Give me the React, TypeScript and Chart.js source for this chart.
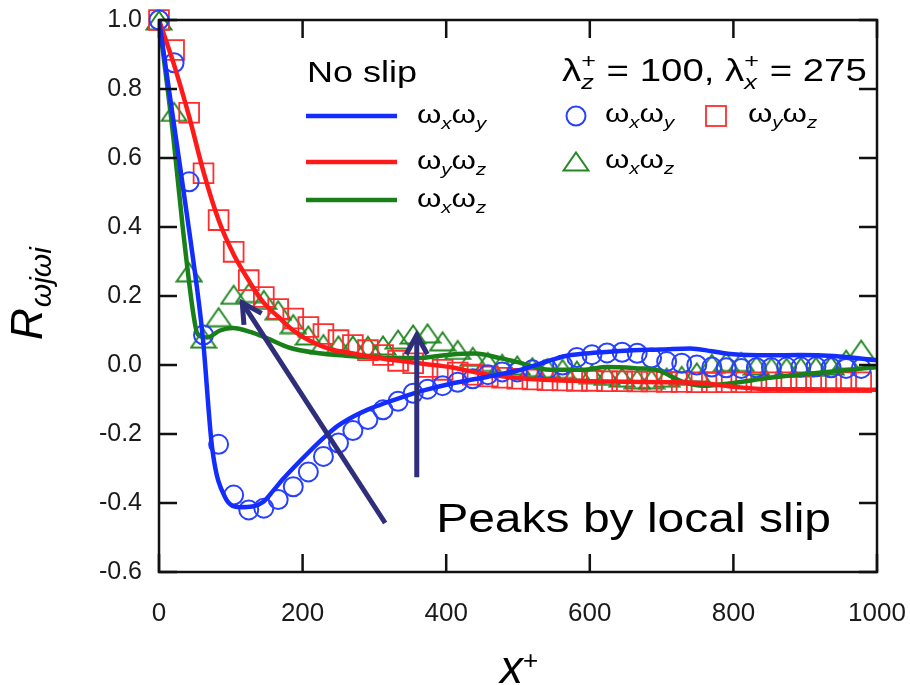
import React, { useEffect, useRef } from 'react';
import { Chart, registerables } from 'chart.js';

Chart.register(...registerables);

// ---------- data ----------
const markerX = [0, 21, 42, 62, 83, 104, 125, 146, 166, 187, 208, 229, 250, 270, 291, 312, 333, 354, 374, 395, 416, 437, 458, 478, 499, 520, 541, 562, 582, 603, 624, 645, 666, 686, 707, 728, 749, 770, 790, 811, 832, 853, 874, 894, 915, 936, 957, 978];

// slip case (markers)
const slipXY = [1.0, 0.876, 0.531, 0.087, -0.23, -0.377, -0.42, -0.415, -0.39, -0.353, -0.31, -0.265, -0.226, -0.19, -0.158, -0.13, -0.105, -0.082, -0.07, -0.06, -0.05, -0.04, -0.028, -0.02, -0.02, -0.014, -0.012, 0.0, 0.022, 0.03, 0.035, 0.037, 0.034, 0.02, 0.01, 0.005, 0.0, -0.006, -0.008, -0.01, -0.008, -0.008, -0.006, -0.006, -0.005, -0.008, -0.01, -0.01];
const slipYZ = [1.0, 0.913, 0.731, 0.556, 0.42, 0.328, 0.246, 0.197, 0.162, 0.135, 0.11, 0.09, 0.072, 0.058, 0.043, 0.029, 0.012, 0.005, -0.006, -0.014, -0.022, -0.028, -0.033, -0.037, -0.04, -0.042, -0.044, -0.045, -0.046, -0.046, -0.047, -0.047, -0.048, -0.048, -0.049, -0.049, -0.05, -0.05, -0.05, -0.05, -0.05, -0.05, -0.05, -0.05, -0.05, -0.05, -0.05, -0.05];
const slipXZ = [1.0, 0.735, 0.27, 0.078, 0.14, 0.205, 0.21, 0.19, 0.16, 0.12, 0.087, 0.062, 0.058, 0.058, 0.057, 0.058, 0.075, 0.09, 0.093, 0.07, 0.045, 0.025, 0.01, 0.005, 0.0, -0.005, -0.008, -0.01, -0.015, -0.025, -0.03, -0.035, -0.04, -0.04, -0.035, -0.03, -0.02, 0.005, 0.01, 0.01, 0.0, -0.005, -0.006, -0.005, -0.004, 0.0, 0.017, 0.046];

// no-slip case (lines)
const noSlipXYx = [0, 22, 44, 61, 74, 92, 113, 130, 145, 160, 173, 190, 210, 230, 248, 270, 290, 315, 336, 370, 405, 450, 500, 540, 568, 610, 660, 700, 740, 770, 800, 850, 893, 940, 1000];
const noSlipXYy = [1.0, 0.68, 0.36, 0.08, -0.24, -0.383, -0.412, -0.41, -0.397, -0.362, -0.33, -0.292, -0.25, -0.21, -0.178, -0.15, -0.13, -0.11, -0.095, -0.073, -0.055, -0.037, -0.016, 0.01, 0.027, 0.036, 0.043, 0.045, 0.048, 0.04, 0.031, 0.028, 0.029, 0.026, 0.014];
const noSlipYZx = [0, 21, 42, 62, 83, 104, 125, 146, 166, 187, 210, 240, 266, 300, 336, 370, 405, 450, 500, 535, 600, 700, 753, 800, 847, 900, 1000];
const noSlipYZy = [1.0, 0.87, 0.72, 0.56, 0.42, 0.32, 0.245, 0.18, 0.14, 0.1, 0.07, 0.045, 0.035, 0.022, 0.012, 0.003, -0.006, -0.025, -0.038, -0.043, -0.047, -0.05, -0.052, -0.063, -0.07, -0.07, -0.072];
const noSlipXZx = [0, 20, 33, 47, 53, 60, 67, 85, 103, 127, 150, 182, 220, 260, 290, 330, 359, 405, 440, 475, 498, 545, 590, 624, 670, 693, 730, 758, 800, 847, 916, 986, 1000];
const noSlipXZy = [1.0, 0.66, 0.4, 0.16, 0.093, 0.082, 0.08, 0.1, 0.107, 0.096, 0.078, 0.05, 0.035, 0.027, 0.023, 0.02, 0.02, 0.03, 0.033, 0.02, 0.009, -0.014, -0.014, -0.006, -0.01, -0.014, -0.049, -0.06, -0.052, -0.038, -0.023, -0.009, -0.006];

// ticks
const xTicks = [0, 200, 400, 600, 800, 1000];
const xTickLabels = ['0', '200', '400', '600', '800', '1000'];
const yTicks = [-0.6, -0.4, -0.2, 0.0, 0.2, 0.4, 0.6, 0.8, 1.0];
const yTickLabels = ['-0.6', '-0.4', '-0.2', '0.0', '0.2', '0.4', '0.6', '0.8', '1.0'];

// annotation texts
const noSlipTitle = 'No slip';
const annotationText = 'Peaks by local slip';

// ---------- styles ----------
const FONT = "'Liberation Sans', Arial, sans-serif";
const BLUE_LINE = 'rgb(20,45,255)';
const RED_LINE = 'rgb(255,25,25)';
const GREEN_LINE = 'rgb(25,128,25)';
const BLUE_MK = 'rgb(40,65,255)';
const RED_MK = 'rgb(255,45,45)';
const GREEN_MK = 'rgb(35,135,35)';
const ARROW = 'rgb(46,46,122)';
const SX = 1.2; // horizontal text stretch of the original figure

function makeTriangle(color: string): HTMLCanvasElement {
  const w = 28, h = 22;
  const c = document.createElement('canvas');
  c.width = w; c.height = h;
  const g = c.getContext('2d')!;
  g.strokeStyle = color;
  g.lineWidth = 2;
  g.beginPath();
  g.moveTo(w / 2, 2.5);
  g.lineTo(w - 1.5, h - 1.5);
  g.lineTo(1.5, h - 1.5);
  g.closePath();
  g.stroke();
  return c;
}

type Seg = { t: string; size: number; italic?: boolean; dy?: number; stack?: boolean };

function drawRich(ctx: CanvasRenderingContext2D, segs: Seg[], x: number, y: number, sx: number) {
  ctx.save();
  ctx.translate(x, y);
  ctx.scale(sx, 1);
  ctx.textAlign = 'left';
  ctx.textBaseline = 'alphabetic';
  let cx = 0;
  let lastW = 0;
  for (const s of segs) {
    ctx.font = `${s.italic ? 'italic ' : ''}${s.size}px ${FONT}`;
    const w = ctx.measureText(s.t).width;
    if (s.stack) {
      const start = cx - lastW;
      ctx.fillText(s.t, start, s.dy || 0);
      cx = start + Math.max(w, lastW);
      lastW = 0;
    } else {
      ctx.fillText(s.t, cx, s.dy || 0);
      cx += w;
      lastW = w;
    }
  }
  ctx.restore();
}

function omegaPair(a: string, b: string): Seg[] {
  return [
    { t: 'ω', size: 26 },
    { t: a, size: 17, italic: true, dy: 6 },
    { t: 'ω', size: 26 },
    { t: b, size: 17, italic: true, dy: 6 },
  ];
}

function arrow(ctx: CanvasRenderingContext2D, x0: number, y0: number, x1: number, y1: number) {
  const ang = Math.atan2(y1 - y0, x1 - x0);
  const hl = 22, ha = 0.5;
  ctx.save();
  ctx.strokeStyle = ARROW;
  ctx.lineWidth = 5;
  ctx.lineCap = 'butt';
  ctx.lineJoin = 'miter';
  ctx.beginPath();
  ctx.moveTo(x0, y0);
  ctx.lineTo(x1, y1);
  ctx.stroke();
  ctx.beginPath();
  ctx.moveTo(x1 - hl * Math.cos(ang - ha), y1 - hl * Math.sin(ang - ha));
  ctx.lineTo(x1, y1);
  ctx.lineTo(x1 - hl * Math.cos(ang + ha), y1 - hl * Math.sin(ang + ha));
  ctx.stroke();
  ctx.restore();
}

export default function App() {
  const ref = useRef<HTMLCanvasElement | null>(null);

  useEffect(() => {
    if (!ref.current) return;
    const tri = makeTriangle(GREEN_MK);

    const decor = {
      id: 'decor',
      afterDatasetsDraw(chart: any) {
        const ctx: CanvasRenderingContext2D = chart.ctx;
        const { left, right, top, bottom } = chart.chartArea;
        const xs = chart.scales.x;
        const ys = chart.scales.y;

        // frame + inward ticks
        ctx.save();
        ctx.strokeStyle = '#111';
        ctx.lineWidth = 2.5;
        ctx.strokeRect(left, top, right - left, bottom - top);
        const TL = 18;
        ctx.beginPath();
        for (const v of xTicks) {
          const px = xs.getPixelForValue(v);
          ctx.moveTo(px, bottom); ctx.lineTo(px, bottom - TL);
          ctx.moveTo(px, top); ctx.lineTo(px, top + TL);
        }
        for (const v of yTicks) {
          const py = ys.getPixelForValue(v);
          ctx.moveTo(left, py); ctx.lineTo(left + TL, py);
          ctx.moveTo(right, py); ctx.lineTo(right - TL, py);
        }
        ctx.stroke();
        ctx.restore();

        // axis titles
        ctx.save();
        ctx.fillStyle = '#000';
        ctx.translate(42, 340);
        ctx.rotate(-Math.PI / 2);
        ctx.textBaseline = 'alphabetic';
        ctx.font = `italic 44px ${FONT}`;
        ctx.fillText('R', 0, 0);
        const rw = ctx.measureText('R').width;
        ctx.font = `italic 30px ${FONT}`;
        ctx.fillText('ωjωi', rw + 1, 9);
        ctx.restore();

        ctx.save();
        ctx.fillStyle = '#000';
        drawRich(ctx, [
          { t: 'x', size: 46, italic: true },
          { t: '+', size: 26, dy: -14 },
        ], 500, 683, 1);
        ctx.restore();

        // "No slip" legend
        ctx.save();
        ctx.fillStyle = '#000';
        drawRich(ctx, [{ t: noSlipTitle, size: 30 }], 307, 82, SX);
        const lines: [string, number, string, string][] = [
          [BLUE_LINE, 116, 'x', 'y'],
          [RED_LINE, 162, 'y', 'z'],
          [GREEN_LINE, 200, 'x', 'z'],
        ];
        for (const [col, y, a, b] of lines) {
          ctx.strokeStyle = col;
          ctx.lineWidth = 4.5;
          ctx.beginPath();
          ctx.moveTo(306, y);
          ctx.lineTo(397, y);
          ctx.stroke();
          drawRich(ctx, omegaPair(a, b), 417, y + 7, SX);
        }
        ctx.restore();

        // slip legend
        ctx.save();
        ctx.fillStyle = '#000';
        drawRich(ctx, [
          { t: 'λ', size: 32 },
          { t: 'z', size: 21, italic: true, dy: 8 },
          { t: '+', size: 21, dy: -13, stack: true },
          { t: ' = 100, ', size: 32 },
          { t: 'λ', size: 32 },
          { t: 'x', size: 21, italic: true, dy: 8 },
          { t: '+', size: 21, dy: -13, stack: true },
          { t: ' = 275', size: 32 },
        ], 562, 81, SX);
        ctx.strokeStyle = BLUE_MK;
        ctx.lineWidth = 2;
        ctx.beginPath();
        ctx.arc(576, 116, 9.5, 0, Math.PI * 2);
        ctx.stroke();
        drawRich(ctx, omegaPair('x', 'y'), 605, 122, SX);
        ctx.strokeStyle = RED_MK;
        ctx.lineWidth = 1.8;
        ctx.strokeRect(716 - 10, 116 - 10, 20, 20);
        drawRich(ctx, omegaPair('y', 'z'), 748, 122, SX);
        ctx.drawImage(tri, 576 - tri.width / 2, 161 - tri.height / 2);
        drawRich(ctx, omegaPair('x', 'z'), 605, 168, SX);
        ctx.restore();

        // arrows and annotation (data coordinates)
        arrow(ctx, xs.getPixelForValue(315), ys.getPixelForValue(-0.458), xs.getPixelForValue(116), ys.getPixelForValue(0.18));
        arrow(ctx, xs.getPixelForValue(359), ys.getPixelForValue(-0.325), xs.getPixelForValue(359), ys.getPixelForValue(0.087));
        ctx.save();
        ctx.fillStyle = '#000';
        drawRich(ctx, [{ t: annotationText, size: 40 }], xs.getPixelForValue(386), ys.getPixelForValue(-0.484), SX);
        ctx.restore();
      },
    };

    const pts = (xa: number[], ya: number[]) => xa.map((x, i) => ({ x, y: ya[i] }));

    const chart = new Chart(ref.current, {
      type: 'scatter',
      data: {
        datasets: [
          { label: 'no slip ωxωy', data: pts(noSlipXYx, noSlipXYy), showLine: true, borderColor: BLUE_LINE, borderWidth: 4.5, pointRadius: 0, cubicInterpolationMode: 'monotone' } as any,
          { label: 'no slip ωyωz', data: pts(noSlipYZx, noSlipYZy), showLine: true, borderColor: RED_LINE, borderWidth: 4.5, pointRadius: 0, cubicInterpolationMode: 'monotone' } as any,
          { label: 'no slip ωxωz', data: pts(noSlipXZx, noSlipXZy), showLine: true, borderColor: GREEN_LINE, borderWidth: 4.5, pointRadius: 0, cubicInterpolationMode: 'monotone' } as any,
          { label: 'slip ωxωy', data: pts(markerX, slipXY), showLine: false, pointStyle: 'circle', pointRadius: 9.5, borderWidth: 2, borderColor: BLUE_MK, backgroundColor: 'rgba(0,0,0,0)', clip: false } as any,
          { label: 'slip ωyωz', data: pts(markerX, slipYZ), showLine: false, pointStyle: 'rect', pointRadius: 14, borderWidth: 1.8, borderColor: RED_MK, backgroundColor: 'rgba(0,0,0,0)', clip: false } as any,
          { label: 'slip ωxωz', data: pts(markerX, slipXZ), showLine: false, pointStyle: tri, pointRadius: 10, borderColor: GREEN_MK, backgroundColor: 'rgba(0,0,0,0)', clip: false } as any,
        ],
      },
      options: {
        animation: false,
        responsive: false,
        devicePixelRatio: 1,
        layout: { padding: { left: 0, right: 33, top: 20, bottom: 0 } },
        plugins: { legend: { display: false }, tooltip: { enabled: false } },
        scales: {
          x: {
            type: 'linear',
            min: 0,
            max: 1000,
            grid: { display: false, drawTicks: false },
            border: { display: false },
            afterBuildTicks: (s: any) => { s.ticks = xTicks.map((v) => ({ value: v })); },
            afterFit: (s: any) => { s.height = 113; s.paddingLeft = 0; s.paddingRight = 0; },
            ticks: {
              padding: 26,
              maxRotation: 0,
              autoSkip: false,
              color: '#1a1a1a',
              font: { family: FONT, size: 26 },
              callback: (v: any) => xTickLabels[xTicks.indexOf(Number(v))] ?? '',
            },
          },
          y: {
            type: 'linear',
            min: -0.6,
            max: 1.0,
            grid: { display: false, drawTicks: false },
            border: { display: false },
            afterBuildTicks: (s: any) => { s.ticks = yTicks.map((v) => ({ value: v })); },
            afterFit: (s: any) => { s.width = 159; s.paddingTop = 0; s.paddingBottom = 0; },
            ticks: {
              padding: 17,
              autoSkip: false,
              color: '#1a1a1a',
              font: { family: FONT, size: 25 },
              callback: (v: any) => {
                const i = yTicks.findIndex((t) => Math.abs(t - Number(v)) < 1e-9);
                return i >= 0 ? yTickLabels[i] : '';
              },
            },
          },
        },
      },
      plugins: [decor],
    });

    return () => chart.destroy();
  }, []);

  return (
    <div style={{ position: 'fixed', left: 0, top: 0, width: 910, height: 685, background: '#fff' }}>
      <canvas ref={ref} width={910} height={685} style={{ display: 'block', width: 910, height: 685 }} />
    </div>
  );
}
